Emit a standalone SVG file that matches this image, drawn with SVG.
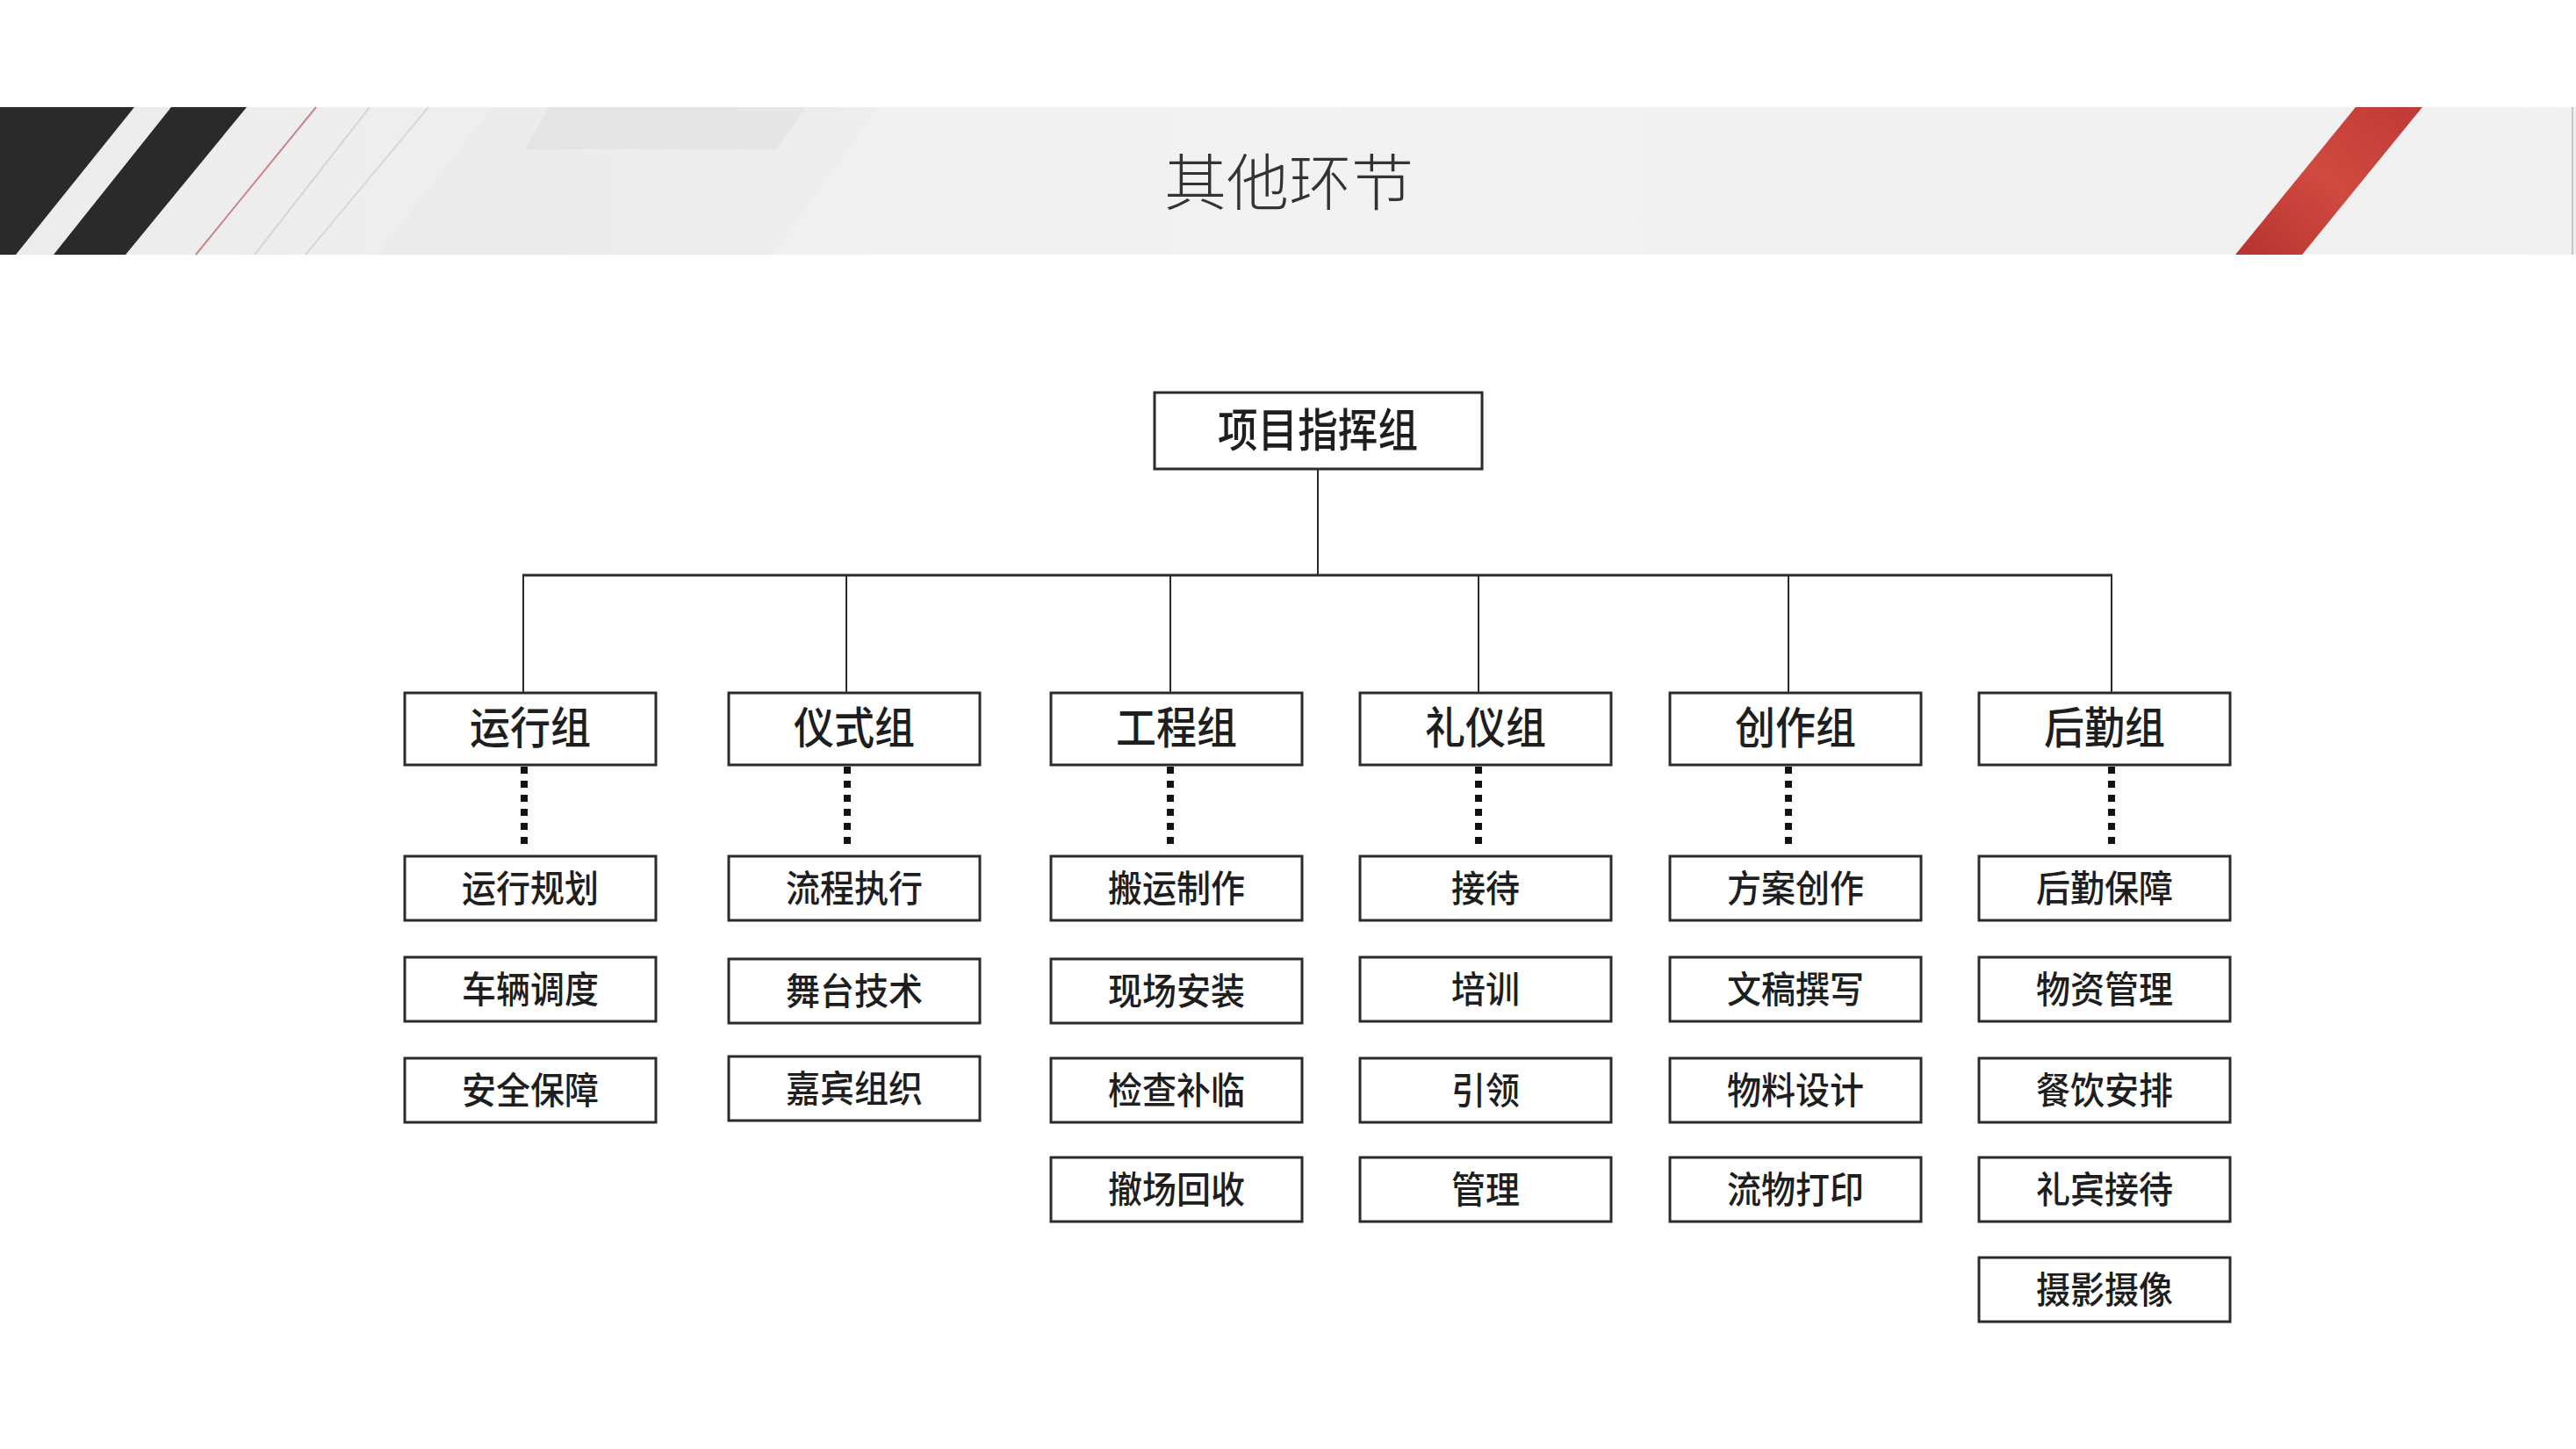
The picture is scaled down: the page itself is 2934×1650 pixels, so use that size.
<svg xmlns="http://www.w3.org/2000/svg" width="2934" height="1650" viewBox="0 0 2934 1650">
  <defs>
    <linearGradient id="band" x1="0" y1="0" x2="1" y2="0">
      <stop offset="0" stop-color="#ececec"/>
      <stop offset="0.5" stop-color="#f2f2f2"/>
      <stop offset="1" stop-color="#f0f0f0"/>
    </linearGradient>
    <linearGradient id="red" x1="0" y1="1" x2="1" y2="0">
      <stop offset="0" stop-color="#b73330"/>
      <stop offset="0.5" stop-color="#d04a40"/>
      <stop offset="1" stop-color="#bf3a35"/>
    </linearGradient>
    <style>
      .box { fill: #ffffff; stroke: #2b2b2b; stroke-width: 3; }
      .t { font-family: "Noto Sans CJK SC", "Noto Sans", sans-serif; fill: #1e1e1e; text-anchor: middle; font-weight: 500; }
      .top { font-size: 52px; }
      .grp { font-size: 50px; }
      .sub { font-size: 42px; }
      .ln { stroke: #2b2b2b; stroke-width: 2; fill: none; }
      .bus { stroke: #2b2b2b; stroke-width: 3; fill: none; }
      .dot { stroke: #111111; stroke-width: 8; stroke-dasharray: 8 8; fill: none; }
    </style>
  </defs>

  <rect width="2934" height="1650" fill="#ffffff"/>

  <!-- header band -->
  <g id="header">
    <rect x="0" y="122" width="2934" height="168" fill="url(#band)"/>
    <polygon points="560,122 1000,122 880,290 430,290" fill="#000" opacity="0.01"/>
    <polygon points="625,122 918,122 884,170 598,170" fill="#000" opacity="0.028"/>
    <polygon points="0,122 153,122 18,290 0,290" fill="#2a2a2a"/>
    <polygon points="195,122 281,122 143,290 61,290" fill="#2a2a2a"/>
    <line x1="360" y1="122" x2="223" y2="290" stroke="#c9868a" stroke-width="2"/>
    <line x1="421" y1="122" x2="290" y2="290" stroke="#d4d4d4" stroke-width="2"/>
    <line x1="488" y1="122" x2="348" y2="290" stroke="#d8d8d8" stroke-width="2"/>
    <polygon points="2683,122 2759,122 2622,290 2546,290" fill="url(#red)"/>
    <line x1="2930" y1="122" x2="2930" y2="290" stroke="#c8c8c8" stroke-width="2"/>
    <text x="1468" y="234" font-family="Noto Sans CJK SC, sans-serif" font-size="70" font-weight="300" fill="#333333" text-anchor="middle" textLength="284" lengthAdjust="spacingAndGlyphs">其他环节</text>
  </g>

  <!-- connectors -->
  <g id="connectors">
    <line class="ln" x1="1501" y1="534" x2="1501" y2="655"/>
    <line class="bus" x1="595" y1="655" x2="2406" y2="655"/>
    <line class="ln" x1="596" y1="655" x2="596" y2="789"/>
    <line class="ln" x1="964" y1="655" x2="964" y2="789"/>
    <line class="ln" x1="1333" y1="655" x2="1333" y2="789"/>
    <line class="ln" x1="1684" y1="655" x2="1684" y2="789"/>
    <line class="ln" x1="2037" y1="655" x2="2037" y2="789"/>
    <line class="ln" x1="2405" y1="655" x2="2405" y2="789"/>
    <line class="dot" x1="597" y1="873" x2="597" y2="965"/>
    <line class="dot" x1="965" y1="873" x2="965" y2="965"/>
    <line class="dot" x1="1333" y1="873" x2="1333" y2="965"/>
    <line class="dot" x1="1684" y1="873" x2="1684" y2="965"/>
    <line class="dot" x1="2037" y1="873" x2="2037" y2="965"/>
    <line class="dot" x1="2405" y1="873" x2="2405" y2="965"/>
  </g>

  <!-- top node -->
  <g id="n-root">
    <rect class="box" x="1315" y="447" width="373" height="87"/>
    <text class="t top" x="1501" y="509" textLength="228" lengthAdjust="spacingAndGlyphs">项目指挥组</text>
  </g>

  <!-- group nodes -->
  <g id="g-yunxing">
    <rect class="box" x="461" y="789" width="286" height="82"/>
    <text class="t grp" x="604" y="847" textLength="138" lengthAdjust="spacingAndGlyphs">运行组</text>
  </g>
  <g id="g-yishi">
    <rect class="box" x="830" y="789" width="286" height="82"/>
    <text class="t grp" x="973" y="847" textLength="138" lengthAdjust="spacingAndGlyphs">仪式组</text>
  </g>
  <g id="g-gongcheng">
    <rect class="box" x="1197" y="789" width="286" height="82"/>
    <text class="t grp" x="1340" y="847" textLength="138" lengthAdjust="spacingAndGlyphs">工程组</text>
  </g>
  <g id="g-liyi">
    <rect class="box" x="1549" y="789" width="286" height="82"/>
    <text class="t grp" x="1692" y="847" textLength="138" lengthAdjust="spacingAndGlyphs">礼仪组</text>
  </g>
  <g id="g-chuangzuo">
    <rect class="box" x="1902" y="789" width="286" height="82"/>
    <text class="t grp" x="2045" y="847" textLength="138" lengthAdjust="spacingAndGlyphs">创作组</text>
  </g>
  <g id="g-houqin">
    <rect class="box" x="2254" y="789" width="286" height="82"/>
    <text class="t grp" x="2397" y="847" textLength="138" lengthAdjust="spacingAndGlyphs">后勤组</text>
  </g>

  <!-- column 1 -->
  <g id="c1-1"><rect class="box" x="461" y="975" width="286" height="73"/><text class="t sub" x="604" y="1027" textLength="156" lengthAdjust="spacingAndGlyphs">运行规划</text></g>
  <g id="c1-2"><rect class="box" x="461" y="1090" width="286" height="73"/><text class="t sub" x="604" y="1142" textLength="156" lengthAdjust="spacingAndGlyphs">车辆调度</text></g>
  <g id="c1-3"><rect class="box" x="461" y="1205" width="286" height="73"/><text class="t sub" x="604" y="1257" textLength="156" lengthAdjust="spacingAndGlyphs">安全保障</text></g>

  <!-- column 2 -->
  <g id="c2-1"><rect class="box" x="830" y="975" width="286" height="73"/><text class="t sub" x="973" y="1027" textLength="156" lengthAdjust="spacingAndGlyphs">流程执行</text></g>
  <g id="c2-2"><rect class="box" x="830" y="1092" width="286" height="73"/><text class="t sub" x="973" y="1144" textLength="156" lengthAdjust="spacingAndGlyphs">舞台技术</text></g>
  <g id="c2-3"><rect class="box" x="830" y="1203" width="286" height="73"/><text class="t sub" x="973" y="1255" textLength="156" lengthAdjust="spacingAndGlyphs">嘉宾组织</text></g>

  <!-- column 3 -->
  <g id="c3-1"><rect class="box" x="1197" y="975" width="286" height="73"/><text class="t sub" x="1340" y="1027" textLength="156" lengthAdjust="spacingAndGlyphs">搬运制作</text></g>
  <g id="c3-2"><rect class="box" x="1197" y="1092" width="286" height="73"/><text class="t sub" x="1340" y="1144" textLength="156" lengthAdjust="spacingAndGlyphs">现场安装</text></g>
  <g id="c3-3"><rect class="box" x="1197" y="1205" width="286" height="73"/><text class="t sub" x="1340" y="1257" textLength="156" lengthAdjust="spacingAndGlyphs">检查补临</text></g>
  <g id="c3-4"><rect class="box" x="1197" y="1318" width="286" height="73"/><text class="t sub" x="1340" y="1370" textLength="156" lengthAdjust="spacingAndGlyphs">撤场回收</text></g>

  <!-- column 4 -->
  <g id="c4-1"><rect class="box" x="1549" y="975" width="286" height="73"/><text class="t sub" x="1692" y="1027" textLength="78" lengthAdjust="spacingAndGlyphs">接待</text></g>
  <g id="c4-2"><rect class="box" x="1549" y="1090" width="286" height="73"/><text class="t sub" x="1692" y="1142" textLength="78" lengthAdjust="spacingAndGlyphs">培训</text></g>
  <g id="c4-3"><rect class="box" x="1549" y="1205" width="286" height="73"/><text class="t sub" x="1692" y="1257" textLength="78" lengthAdjust="spacingAndGlyphs">引领</text></g>
  <g id="c4-4"><rect class="box" x="1549" y="1318" width="286" height="73"/><text class="t sub" x="1692" y="1370" textLength="78" lengthAdjust="spacingAndGlyphs">管理</text></g>

  <!-- column 5 -->
  <g id="c5-1"><rect class="box" x="1902" y="975" width="286" height="73"/><text class="t sub" x="2045" y="1027" textLength="156" lengthAdjust="spacingAndGlyphs">方案创作</text></g>
  <g id="c5-2"><rect class="box" x="1902" y="1090" width="286" height="73"/><text class="t sub" x="2045" y="1142" textLength="156" lengthAdjust="spacingAndGlyphs">文稿撰写</text></g>
  <g id="c5-3"><rect class="box" x="1902" y="1205" width="286" height="73"/><text class="t sub" x="2045" y="1257" textLength="156" lengthAdjust="spacingAndGlyphs">物料设计</text></g>
  <g id="c5-4"><rect class="box" x="1902" y="1318" width="286" height="73"/><text class="t sub" x="2045" y="1370" textLength="156" lengthAdjust="spacingAndGlyphs">流物打印</text></g>

  <!-- column 6 -->
  <g id="c6-1"><rect class="box" x="2254" y="975" width="286" height="73"/><text class="t sub" x="2397" y="1027" textLength="156" lengthAdjust="spacingAndGlyphs">后勤保障</text></g>
  <g id="c6-2"><rect class="box" x="2254" y="1090" width="286" height="73"/><text class="t sub" x="2397" y="1142" textLength="156" lengthAdjust="spacingAndGlyphs">物资管理</text></g>
  <g id="c6-3"><rect class="box" x="2254" y="1205" width="286" height="73"/><text class="t sub" x="2397" y="1257" textLength="156" lengthAdjust="spacingAndGlyphs">餐饮安排</text></g>
  <g id="c6-4"><rect class="box" x="2254" y="1318" width="286" height="73"/><text class="t sub" x="2397" y="1370" textLength="156" lengthAdjust="spacingAndGlyphs">礼宾接待</text></g>
  <g id="c6-5"><rect class="box" x="2254" y="1432" width="286" height="73"/><text class="t sub" x="2397" y="1484" textLength="156" lengthAdjust="spacingAndGlyphs">摄影摄像</text></g>
</svg>
